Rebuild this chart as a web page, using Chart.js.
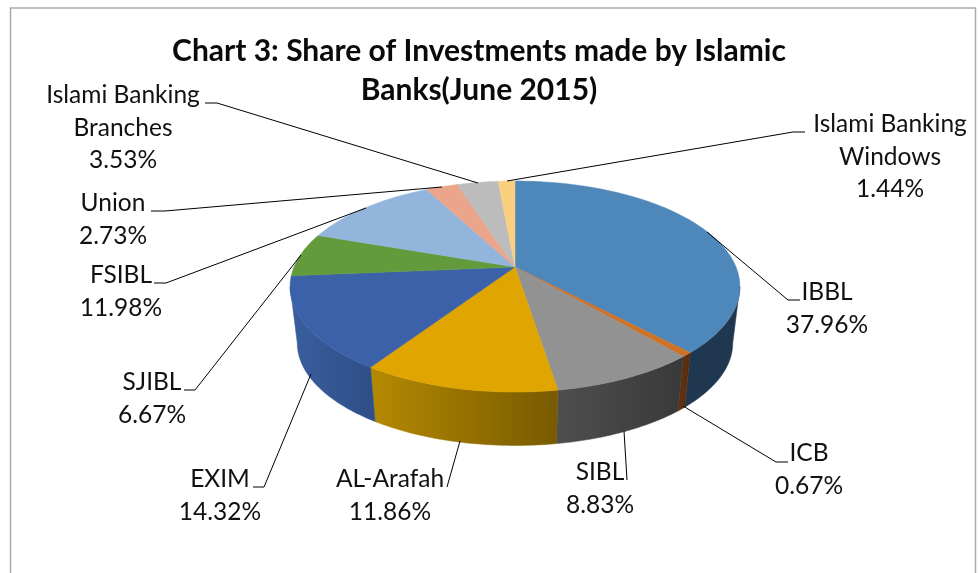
<!DOCTYPE html>
<html>
<head>
<meta charset="utf-8">
<style>html,body{margin:0;padding:0;background:#fff}canvas{display:block}</style>
<script src="https://cdn.jsdelivr.net/npm/chart.js@4"></script>
</head>
<body>
<canvas id="c" width="978" height="573"></canvas>
<script>
const categories = ['IBBL','ICB','SIBL','AL-Arafah','EXIM','SJIBL','FSIBL','Union','Islami Banking Branches','Islami Banking Windows'];
const shareValues = [37.96,0.67,8.83,11.86,14.32,6.67,11.98,2.73,3.53,1.44];
const topColors = ['#4e87b9','#cf7226','#929292','#e0a500','#3b62a8','#629a3c','#93b5dc','#eba58a','#bcbcbc','#fbcf80'];
const wallLight = ['#20384f','#5e3010','#4e4e4e','#b58902','#3a5f9e','#3a5c24','#587090','#8c6352','#707070','#967c4c'];
const wallDark  = ['#20384f','#552b0e','#393939','#785a00','#2e4f88','#3a5c24','#587090','#8c6352','#707070','#967c4c'];
const titleLines = ['Chart 3: Share of Investments made by Islamic','Banks(June 2015)'];

// label lines, centre x, first baseline, leader polyline
const labelLines = [['IBBL'],['ICB'],['SIBL'],['AL-Arafah'],['EXIM'],['SJIBL'],['FSIBL'],['Union'],['Islami Banking','Branches'],['Islami Banking','Windows']];
const labelX = [827,809,600,390,220,152,121,113,123,890];
const labelY = [300,461,480,487,487,390,283,211,103,132];
const leaders = [
 [[800,300],[788,300],[707,232]],
 [[788,462],[776,462],[683,406]],
 [[627,480],[624,431]],
 [[447,487],[460,441]],
 [[253,487],[264,487],[311,374]],
 [[184,390],[195,390],[301,255]],
 [[154,283],[166,283],[366,208]],
 [[151,211],[165,211],[442,187]],
 [[205,103],[217,103],[478,183]],
 [[805,132],[793,132],[507,181]]
];

const apexX = 515, apexY = 267, persp = 0.185;
const topPlane = {y:267, rx:221, ry:101.9};
const bottomPlane = {y:324, rx:214, ry:99};
function project(p, t){ // t: clockwise angle from the back of the disc
  const u = Math.sin(t), v = -Math.cos(t), d = 1 - persp*v;
  return [apexX + p.rx*u/d, p.y + p.ry*v/d];
}
function rim(ctx, p, a, b, first){
  const n = Math.max(2, Math.ceil(Math.abs(b-a)/0.02));
  for(let i=0;i<=n;i++){
    const q = project(p, a+(b-a)*i/n);
    (first && i===0) ? ctx.moveTo(q[0],q[1]) : ctx.lineTo(q[0],q[1]);
  }
}
const wallMin = 100.7*Math.PI/180, wallMax = 259.3*Math.PI/180;

const pie3d = {
  id:'pie3d',
  beforeDraw(chart){
    const ctx = chart.ctx;
    ctx.save();
    ctx.fillStyle='#fff'; ctx.fillRect(0,0,chart.width,chart.height);
    ctx.strokeStyle='#ababab'; ctx.lineWidth=1.5;
    ctx.beginPath(); ctx.moveTo(10.5,573); ctx.lineTo(10.5,8); ctx.lineTo(975.5,8); ctx.lineTo(975.5,573); ctx.stroke();
    ctx.restore();
  },
  beforeDatasetDraw(chart){
    const ctx = chart.ctx, arcs = chart.getDatasetMeta(0).data;
    ctx.save();
    // side walls
    arcs.forEach((arc,i)=>{
      const a = Math.max(arc.startAngle+Math.PI/2, wallMin), b = Math.min(arc.endAngle+Math.PI/2, wallMax);
      if(b<=a) return;
      const xa = project(topPlane,a)[0], xb = project(topPlane,b)[0];
      const g = ctx.createLinearGradient(Math.min(xa,xb),0,Math.max(xa,xb),0);
      g.addColorStop(0,wallLight[i]); g.addColorStop(1,wallDark[i]);
      ctx.fillStyle=g; ctx.strokeStyle=g; ctx.lineWidth=.5;
      ctx.beginPath();
      rim(ctx,topPlane,a,b,true);
      rim(ctx,bottomPlane,b,a,false);
      ctx.closePath(); ctx.fill(); ctx.stroke();
    });
    // top face
    arcs.forEach(arc=>{
      const c = arc.options.backgroundColor;
      ctx.fillStyle=c; ctx.strokeStyle=c; ctx.lineWidth=.5;
      ctx.beginPath();
      ctx.moveTo(apexX,apexY);
      rim(ctx,topPlane,arc.startAngle+Math.PI/2,arc.endAngle+Math.PI/2,false);
      ctx.closePath(); ctx.fill(); ctx.stroke();
    });
    ctx.restore();
    return false;
  },
  afterDatasetsDraw(chart){
    const ctx = chart.ctx;
    ctx.save();
    ctx.textAlign='center'; ctx.textBaseline='alphabetic';
    ctx.fillStyle='#0a0a0a';
    ctx.font='bold 30px Lato';
    titleLines.forEach((t,i)=>ctx.fillText(t,479,61+i*39));
    ctx.strokeStyle='#000'; ctx.lineWidth=1;
    leaders.forEach(pts=>{
      ctx.beginPath();
      pts.forEach((q,j)=> j? ctx.lineTo(q[0],q[1]) : ctx.moveTo(q[0],q[1]));
      ctx.stroke();
    });
    ctx.fillStyle='#111';
    ctx.font='24.5px Lato';
    categories.forEach((cat,i)=>{
      const lines = labelLines[i].concat([shareValues[i].toFixed(2)+'%']);
      lines.forEach((t,j)=>ctx.fillText(t,labelX[i],labelY[i]+j*32.7));
    });
    ctx.restore();
  }
};

new Chart(document.getElementById('c'),{
  type:'pie',
  data:{labels:categories,datasets:[{data:shareValues,backgroundColor:topColors,borderWidth:0}]},
  options:{
    responsive:false,animation:false,
    layout:{padding:{left:290,right:238,top:62,bottom:61}},
    plugins:{legend:{display:false},tooltip:{enabled:false},title:{display:false}}
  },
  plugins:[pie3d]
});
</script>
</body>
</html>
